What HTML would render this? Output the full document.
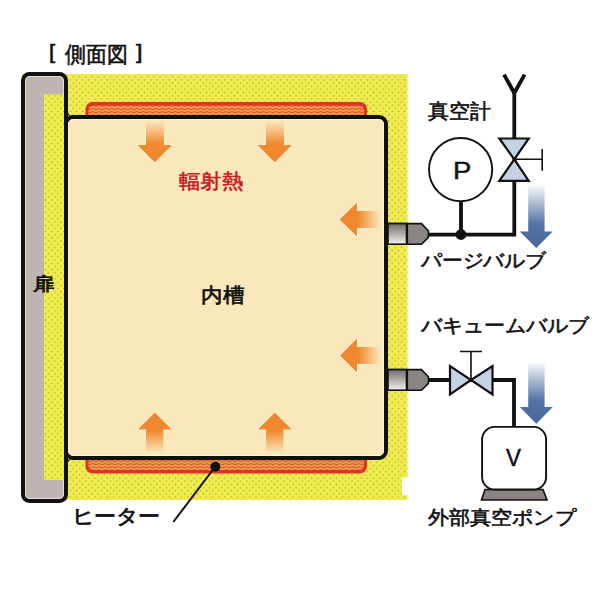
<!DOCTYPE html>
<html><head><meta charset="utf-8">
<style>
html,body{margin:0;padding:0;background:#fff;}
body{width:600px;height:600px;position:relative;overflow:hidden;font-family:"Liberation Sans",sans-serif;}
svg{position:absolute;left:0;top:0;}
.t{position:absolute;white-space:nowrap;line-height:1;color:#111;-webkit-text-stroke:0.6px currentColor;}
</style></head><body>
<svg width="600" height="600" viewBox="0 0 600 600">
<defs>
  <pattern id="dots" patternUnits="userSpaceOnUse" x="0" y="0" width="6.19" height="6.32">
    <rect width="6.19" height="6.32" fill="#f0eb50"/>
    <circle cx="2.2" cy="4.1" r="0.68" fill="#a89616"/>
    <circle cx="5.3" cy="0.95" r="0.68" fill="#a89616"/>
  </pattern>
  <pattern id="zig" patternUnits="userSpaceOnUse" x="1" y="0.2" width="6.33" height="3.2">
    <rect width="6.33" height="3.2" fill="#dc5c1a"/>
    <path d="M-3.165,0.8 L0,2.4 L3.165,0.8 L6.33,2.4 L9.5,0.8 M-3.165,4 L0,5.6 L3.165,4 L6.33,5.6 L9.5,4 M-3.165,-2.4 L0,-0.8 L3.165,-2.4 L6.33,-0.8 L9.5,-2.4" fill="none" stroke="#f9aa66" stroke-width="1.3"/>
  </pattern>
  <linearGradient id="gDown" x1="0" y1="0" x2="0" y2="1">
    <stop offset="0" stop-color="#f0892f" stop-opacity="0"/>
    <stop offset="0.55" stop-color="#f0892f" stop-opacity="1"/>
    <stop offset="1" stop-color="#ef8630"/>
  </linearGradient>
  <linearGradient id="gUp" x1="0" y1="1" x2="0" y2="0">
    <stop offset="0" stop-color="#f0892f" stop-opacity="0"/>
    <stop offset="0.55" stop-color="#f0892f" stop-opacity="1"/>
    <stop offset="1" stop-color="#ef8630"/>
  </linearGradient>
  <linearGradient id="gLeft" x1="1" y1="0" x2="0" y2="0">
    <stop offset="0" stop-color="#f0892f" stop-opacity="0"/>
    <stop offset="0.55" stop-color="#f0892f" stop-opacity="1"/>
    <stop offset="1" stop-color="#ef8630"/>
  </linearGradient>
  <linearGradient id="gBlue" x1="0" y1="0" x2="0" y2="1">
    <stop offset="0" stop-color="#5574a6" stop-opacity="0"/>
    <stop offset="0.62" stop-color="#5574a6" stop-opacity="1"/>
    <stop offset="1" stop-color="#48679a"/>
  </linearGradient>
  <linearGradient id="gPortA" x1="0" y1="0" x2="0" y2="1">
    <stop offset="0" stop-color="#716a68"/>
    <stop offset="1" stop-color="#f4f1ef"/>
  </linearGradient>

  <linearGradient id="hDown" x1="0" y1="0" x2="0" y2="1">
    <stop offset="0.1" stop-color="#fffbe2" stop-opacity="0"/>
    <stop offset="0.55" stop-color="#fffbe2" stop-opacity="0.85"/>
  </linearGradient>
  <linearGradient id="hUp" x1="0" y1="1" x2="0" y2="0">
    <stop offset="0.1" stop-color="#fffbe2" stop-opacity="0"/>
    <stop offset="0.55" stop-color="#fffbe2" stop-opacity="0.85"/>
  </linearGradient>
  <linearGradient id="hLeft" x1="1" y1="0" x2="0" y2="0">
    <stop offset="0.1" stop-color="#fffbe2" stop-opacity="0"/>
    <stop offset="0.55" stop-color="#fffbe2" stop-opacity="0.85"/>
  </linearGradient>
</defs>

<!-- insulation (yellow) -->
<rect x="22" y="74" width="385.5" height="426" fill="url(#dots)"/>
<rect x="402" y="477.5" width="6" height="17.5" fill="#fff"/>

<!-- door -->
<rect x="18" y="488" width="12" height="16" fill="#fff"/>
<rect x="23" y="74" width="43" height="427" rx="6.5" fill="#bcb5b1" stroke="#111" stroke-width="4"/>
<rect x="25.5" y="76.5" width="38" height="422" rx="4.5" fill="none" stroke="#e4dcd8" stroke-width="1"/>
<rect x="44" y="94.5" width="20" height="385.5" fill="url(#dots)"/>

<!-- heaters -->
<rect x="85.5" y="102" width="281.5" height="22" rx="7" fill="#e0322a"/>
<rect x="88.5" y="105.5" width="275.5" height="14" rx="4.5" fill="url(#zig)"/>
<rect x="85.5" y="450" width="281.5" height="23.5" rx="7" fill="#e0322a"/>
<rect x="88.5" y="455" width="275.5" height="15" rx="4.5" fill="url(#zig)"/>
<circle cx="215.3" cy="466.7" r="5" fill="#111"/>
<line x1="215" y1="467" x2="173.3" y2="522" stroke="#111" stroke-width="2"/>

<!-- tank -->
<rect x="66" y="117" width="320" height="341" rx="7" fill="#fae7bb" stroke="#111" stroke-width="4"/>
<rect x="68.6" y="119.6" width="314.8" height="335.8" rx="4.6" fill="none" stroke="#fffae0" stroke-width="1" opacity="0.8"/>
<path d="M67.5,110 Q67.5,115.5 73,115.5 L67.5,115.5 Z" fill="#111"/>
<path d="M67.5,465 Q67.5,459.5 73,459.5 L67.5,459.5 Z" fill="#111"/>

<!-- orange arrows down -->
<path d="M146,121 H164 V145 H172 L154.8,162.5 L137.5,145 H146 Z" fill="url(#gDown)" stroke="url(#hDown)" stroke-width="1.6" paint-order="stroke"/>
<path d="M266,121 H284 V145 H292 L274.8,162.5 L257.5,145 H266 Z" fill="url(#gDown)" stroke="url(#hDown)" stroke-width="1.6" paint-order="stroke"/>
<!-- up -->
<path d="M146,453 H163.5 V429.5 H171.8 L154.8,412.5 L137.8,429.5 H146 Z" fill="url(#gUp)" stroke="url(#hUp)" stroke-width="1.6" paint-order="stroke"/>
<path d="M266,453 H283.5 V429.5 H291.8 L274.8,412.5 L257.8,429.5 H266 Z" fill="url(#gUp)" stroke="url(#hUp)" stroke-width="1.6" paint-order="stroke"/>
<!-- left -->
<path d="M380.5,211 V228 H357 V236.5 L339.5,219.5 L357,202.5 V211 Z" fill="url(#gLeft)" stroke="url(#hLeft)" stroke-width="1.6" paint-order="stroke"/>
<path d="M380.5,347 V364 H357 V372.5 L340,355.5 L357,338.5 V347 Z" fill="url(#gLeft)" stroke="url(#hLeft)" stroke-width="1.6" paint-order="stroke"/>

<!-- ports -->
<g stroke="#111" stroke-width="1.6" stroke-linejoin="miter">
  <path d="M388,223.6 H421.5 L428.4,230.8 V237.4 L421.5,244.2 H388 Z" fill="#8b8482"/>
  <rect x="388" y="223.6" width="18.6" height="20.6" fill="url(#gPortA)"/>
  <path d="M407,223.6 V244.2" stroke-width="2.2"/>
  <path d="M388,369.6 H421.5 L428.4,376.8 V383.4 L421.5,390.2 H388 Z" fill="#8b8482"/>
  <rect x="388" y="369.6" width="18.6" height="20.6" fill="url(#gPortA)"/>
  <path d="M407,369.6 V390.2" stroke-width="2.2"/>
</g>

<!-- pipes -->
<g stroke="#111" stroke-width="3.8" fill="none">
  <path d="M428,234.7 H514.3 V93"/>
  <path d="M461,234.6 V201"/>
  <path d="M504,74.6 L514.3,93 L524.6,74.6"/>
  <path d="M428,380 H514 V426"/>
</g>
<circle cx="461" cy="234.5" r="5.4" fill="#111"/>

<!-- gauge -->
<circle cx="460.6" cy="169.6" r="31.6" fill="#fff" stroke="#111" stroke-width="1.9"/>

<!-- valve 1 vertical -->
<g stroke="#111" stroke-width="2.2" stroke-linejoin="miter">
  <path d="M499.3,138.5 H528.7 L514.3,159.3 Z" fill="#c4d3e3"/>
  <path d="M499.3,180.8 H528.7 L514.3,159.3 Z" fill="#c4d3e3"/>
</g>
<path d="M514.3,159.3 H542.2 M542.2,149 V170.7" stroke="#111" stroke-width="1.6" fill="none"/>

<!-- valve 2 horizontal -->
<g stroke="#111" stroke-width="2.2" stroke-linejoin="miter">
  <path d="M450,366 V394.5 L471,380 Z" fill="#c4d3e3"/>
  <path d="M492.5,366 V394.5 L471,380 Z" fill="#c4d3e3"/>
</g>
<path d="M471,380 V351.5 M460,351.5 H482" stroke="#111" stroke-width="1.6" fill="none"/>

<!-- blue arrows -->
<path d="M528.2,184 H544.6 V231.6 H552.7 L536.3,248 L519.8,231.6 H528.2 Z" fill="url(#gBlue)"/>
<path d="M528.2,361 H544.6 V407 H552.8 L536.3,423.8 L519.8,407 H528.2 Z" fill="url(#gBlue)"/>

<!-- pump -->
<path d="M485,489.5 H543 L547,500 H481.5 Z" fill="#8a8381" stroke="#111" stroke-width="1.6"/>
<rect x="482.1" y="426.9" width="64" height="62.6" rx="12.5" fill="#fff" stroke="#111" stroke-width="1.9"/>
</svg>

<!--TEXTS-->
<div class="t" id="lb" style="left:49.22px;top:42.78px;font-size:19.66px;letter-spacing:0.00px;transform:scaleX(1.1227);transform-origin:0 0;">[</div>
<div class="t" id="title" style="left:65.17px;top:43.51px;font-size:21.98px;letter-spacing:0.00px;transform:scaleX(0.9537);transform-origin:0 0;">側面図</div>
<div class="t" id="rb" style="left:136.24px;top:42.78px;font-size:19.66px;letter-spacing:0.00px;transform:scaleX(1.1809);transform-origin:0 0;">]</div>
<div class="t" id="door" style="left:33.19px;top:274.82px;font-size:18.48px;letter-spacing:0.00px;transform:scaleX(1.1960);transform-origin:0 0;-webkit-text-stroke:0.8px currentColor;">扉</div>
<div class="t" id="rad" style="left:179.21px;top:170.51px;font-size:20.13px;letter-spacing:0.00px;transform:scaleX(1.0731);transform-origin:0 0;color:#c41c22;-webkit-text-stroke:0.55px currentColor;">輻射熱</div>
<div class="t" id="tank" style="left:200.59px;top:286.38px;font-size:19.67px;letter-spacing:0.00px;transform:scaleX(1.0757);transform-origin:0 0;-webkit-text-stroke:0.7px currentColor;">内槽</div>
<div class="t" id="gauge" style="left:428.42px;top:101.96px;font-size:19.75px;letter-spacing:0.00px;transform:scaleX(1.0473);transform-origin:0 0;">真空計</div>
<div class="t" id="P" style="left:453.25px;top:160.03px;font-size:23.45px;letter-spacing:0.00px;transform:scaleX(1.1710);transform-origin:0 0;-webkit-text-stroke:0.45px currentColor;">P</div>
<div class="t" id="purge" style="left:421.47px;top:251.94px;font-size:18.82px;letter-spacing:0.00px;transform:scaleX(1.0955);transform-origin:0 0;">パージバルブ</div>
<div class="t" id="vac" style="left:421.46px;top:316.57px;font-size:18.57px;letter-spacing:0.00px;transform:scaleX(1.1039);transform-origin:0 0;">バキュームバルブ</div>
<div class="t" id="V" style="left:505.72px;top:447.28px;font-size:23.41px;letter-spacing:0.00px;transform:scaleX(0.9540);transform-origin:0 0;-webkit-text-stroke:0.5px currentColor;">V</div>
<div class="t" id="pump" style="left:427.93px;top:507.60px;font-size:19.28px;letter-spacing:0.00px;transform:scaleX(1.1098);transform-origin:0 0;">外部真空ポンプ</div>
<div class="t" id="heater" style="left:71.95px;top:506.92px;font-size:19.85px;letter-spacing:0.00px;transform:scaleX(1.1008);transform-origin:0 0;-webkit-text-stroke:0.8px currentColor;">ヒーター</div>
<!--/TEXTS-->
</body></html>
